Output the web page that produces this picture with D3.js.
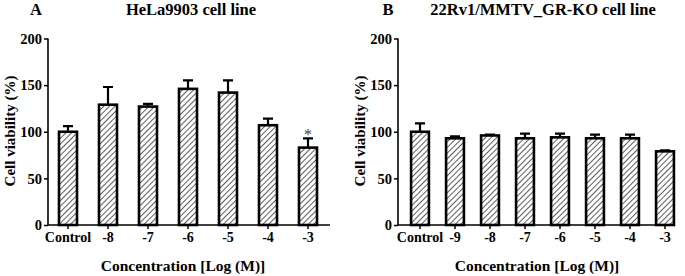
<!DOCTYPE html>
<html>
<head>
<meta charset="utf-8">
<script src="https://cdn.jsdelivr.net/npm/d3@7"></script>
<style>
  body { margin: 0; background: #fff; }
</style>
</head>
<body>
<svg id="chart" width="685" height="276"></svg>
<script>
// Panel A: HeLa9903
const catsA = ['Control', '-8', '-7', '-6', '-5', '-4', '-3'];
const valsA = [100, 129, 127, 146, 142, 107, 83];
const errA = [6, 19, 3, 9, 13, 7, 10];
const starA = [false, false, false, false, false, false, true];

// Panel B: 22Rv1/MMTV_GR-KO
const catsB = ['Control', '-9', '-8', '-7', '-6', '-5', '-4', '-3'];
const valsB = [100, 93, 96, 93, 94, 93, 93, 79];
const errB = [9, 2, 1, 5, 4, 4, 4, 1];
const starB = [false, false, false, false, false, false, false, false];

const yTicks = [0, 50, 100, 150, 200];

const FONT = "'Liberation Serif', 'DejaVu Serif', 'Times New Roman', serif";

const svg = d3.select('#chart');

// Hatch pattern for the bars
const defs = svg.append('defs');
const pat = defs.append('pattern')
  .attr('id', 'hatch')
  .attr('patternUnits', 'userSpaceOnUse')
  .attr('width', 4)
  .attr('height', 4)
  .attr('patternTransform', 'rotate(45)');
pat.append('rect').attr('width', 4).attr('height', 4).attr('fill', '#fff');
pat.append('line')
  .attr('x1', 0).attr('y1', 0).attr('x2', 0).attr('y2', 4)
  .attr('stroke', '#333').attr('stroke-width', 1.6);

function styleText(sel, size, weight) {
  sel.attr('font-family', FONT)
    .style('font-family', FONT)
    .style('font-size', `${size}px`)
    .style('font-weight', weight || 'bold')
    .attr('fill', '#000');
}

function drawPanel(cfg) {
  const g = svg.append('g');

  const y = d3.scaleLinear().domain([0, 200]).range([225, 38.5]);
  const x = d3.scaleBand()
    .domain(cfg.cats)
    .range(cfg.bandRange)
    .paddingInner(cfg.pad)
    .paddingOuter(cfg.pad / 2);

  // Y axis
  const yAxis = g.append('g')
    .attr('transform', `translate(${cfg.axisX},0)`)
    .call(d3.axisLeft(y).tickValues(yTicks).tickSize(4).tickSizeOuter(0).tickPadding(2));
  yAxis.attr('font-family', null).attr('font-size', null);
  yAxis.select('.domain').attr('stroke-width', 1.6).attr('d', `M0,${y(0)}V${y(200)}`);
  yAxis.selectAll('.tick line').attr('stroke-width', 1.5);
  styleText(yAxis.selectAll('text'), 14.5);

  // Bars
  const bars = cfg.cats.map((c, i) => ({ c, v: cfg.vals[i], e: cfg.errs[i], s: cfg.stars[i] }));
  const bw = x.bandwidth();

  // Error bars (drawn up only)
  g.selectAll('.err')
    .data(bars)
    .enter().append('path')
    .attr('class', 'err')
    .attr('fill', 'none')
    .attr('stroke', '#000')
    .attr('stroke-width', 2.2)
    .attr('d', (d) => {
      const cx = x(d.c) + bw / 2;
      return `M${cx},${y(d.v)}V${y(d.v + d.e)}M${cx - 5},${y(d.v + d.e)}H${cx + 5}`;
    });

  g.selectAll('.bar')
    .data(bars)
    .enter().append('rect')
    .attr('class', 'bar')
    .attr('x', (d) => x(d.c))
    .attr('y', (d) => y(d.v))
    .attr('width', bw)
    .attr('height', (d) => y(0) - y(d.v))
    .attr('fill', 'url(#hatch)')
    .attr('stroke', '#000')
    .attr('stroke-width', 2.6);

  // Significance stars
  const stars = g.selectAll('.star')
    .data(bars.filter((d) => d.s))
    .enter().append('text')
    .attr('x', (d) => x(d.c) + bw / 2)
    .attr('y', (d) => y(d.v + d.e) + 2)
    .attr('text-anchor', 'middle')
    .text('*');
  styleText(stars, 16, 'normal');
  stars.attr('fill', '#444');

  // X axis
  const xAxis = g.append('g')
    .attr('transform', `translate(0,${y(0)})`)
    .call(d3.axisBottom(x).tickSize(4).tickSizeOuter(0).tickPadding(3));
  xAxis.attr('font-family', null).attr('font-size', null);
  xAxis.select('.domain').attr('stroke-width', 1.6).attr('d', `M${cfg.axisX},0H${cfg.axisEnd}`);
  xAxis.selectAll('.tick line').attr('stroke-width', 1.5);
  styleText(xAxis.selectAll('text'), 14);

  // Axis titles
  styleText(g.append('text')
    .attr('transform', `translate(${cfg.axisX - 38},131) rotate(-90)`)
    .attr('text-anchor', 'middle')
    .attr('dy', '0.35em')
    .text('Cell viability (%)'), 15);

  styleText(g.append('text')
    .attr('x', cfg.xTitleX)
    .attr('y', 271)
    .attr('text-anchor', 'middle')
    .text('Concentration [Log (M)]'), 15.5);

  // Panel letter and title
  styleText(g.append('text')
    .attr('x', cfg.letterX)
    .attr('y', 15)
    .attr('text-anchor', 'middle')
    .text(cfg.letter), 16.5);

  styleText(g.append('text')
    .attr('x', cfg.titleX)
    .attr('y', 15)
    .attr('text-anchor', 'middle')
    .text(cfg.title), 16.5);
}

drawPanel({
  cats: catsA, vals: valsA, errs: errA, stars: starA,
  axisX: 48, axisEnd: 330, bandRange: [48, 328], pad: 0.55,
  letter: 'A', letterX: 36, title: 'HeLa9903 cell line', titleX: 191, xTitleX: 183,
});

drawPanel({
  cats: catsB, vals: valsB, errs: errB, stars: starB,
  axisX: 398, axisEnd: 673, bandRange: [402.5, 682.5], pad: 0.49,
  letter: 'B', letterX: 388, title: '22Rv1/MMTV_GR-KO cell line', titleX: 543, xTitleX: 537,
});
</script>
</body>
</html>
